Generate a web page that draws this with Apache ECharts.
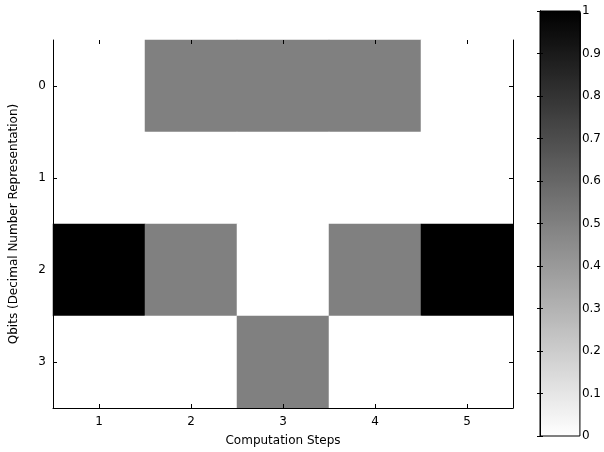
<!DOCTYPE html>
<html>
<head>
<meta charset="utf-8">
<script src="https://cdn.jsdelivr.net/npm/echarts@6/dist/echarts.min.js"></script>
<style>
  html, body { margin: 0; padding: 0; background: #fff; }
  #chart { width: 604px; height: 452px; }
</style>
</head>
<body>
<div id="chart"></div>
<script>
// data
const steps = ['1', '2', '3', '4', '5']
const qbits = ['0', '1', '2', '3']
const row0 = [0, 0.5, 0.5, 0.5, 0]
const row1 = [0, 0, 0, 0, 0]
const row2 = [1, 0.5, 0, 0.5, 1]
const row3 = [0, 0, 0.5, 0, 0]
const colorbarTicks = [0, 0.1, 0.2, 0.3, 0.4, 0.5, 0.6, 0.7, 0.8, 0.9, 1]

const rows = [row0, row1, row2, row3]
const cells = []
rows.forEach((r, y) => r.forEach((v, x) => cells.push([x, y, v])))

const font = 'DejaVu Sans'
const chart = echarts.init(document.getElementById('chart'))

const tickIn = { show: true, inside: true, length: 4, lineStyle: { color: '#000' }, alignWithLabel: true }
const lineBlack = { show: true, lineStyle: { color: '#000', width: 1 } }

chart.setOption({
  animation: false,
  backgroundColor: '#fff',
  grid: [
    { left: 53, top: 40, width: 460, height: 368, containLabel: false },
    { left: 540, top: 11, width: 41, height: 425, show: true, borderColor: '#000', borderWidth: 1, backgroundColor: 'transparent', z: 10 },
  ],
  xAxis: [
    {
      type: 'category', data: steps, gridIndex: 0, position: 'bottom', z: 5,
      axisLine: lineBlack, axisTick: tickIn, splitLine: { show: false },
      axisLabel: { color: '#000', fontFamily: font, fontSize: 12, margin: 8 },
      name: 'Computation Steps', nameLocation: 'middle', nameGap: 27,
      nameTextStyle: { color: '#000', fontFamily: font, fontSize: 12 },
    },
    {
      type: 'category', data: steps, gridIndex: 0, position: 'top', z: 5,
      axisLine: { show: false }, axisTick: tickIn, axisLabel: { show: false },
    },
    { type: 'value', gridIndex: 1, show: false, min: 0, max: 1 },
  ],
  yAxis: [
    {
      type: 'category', data: qbits, gridIndex: 0, inverse: true, position: 'left', z: 5,
      axisLine: lineBlack, axisTick: tickIn, splitLine: { show: false },
      axisLabel: { color: '#000', fontFamily: font, fontSize: 12, margin: 7 },
      name: 'Qbits (Decimal Number Representation)', nameLocation: 'middle', nameGap: 33,
      nameTextStyle: { color: '#000', fontFamily: font, fontSize: 12 },
    },
    {
      type: 'category', data: qbits, gridIndex: 0, inverse: true, position: 'right', z: 5,
      axisLine: lineBlack, axisTick: tickIn, axisLabel: { show: false },
    },
    {
      type: 'value', gridIndex: 1, position: 'right', min: 0, max: 1, interval: 0.1, z: 11,
      axisLine: lineBlack, axisTick: { show: true, inside: true, length: 3, lineStyle: { color: '#000' } },
      splitLine: { show: false },
      axisLabel: {
        color: '#000', fontFamily: font, fontSize: 12, margin: 2, showMinLabel: true, showMaxLabel: true,
        formatter: v => String(colorbarTicks.find(t => Math.abs(t - v) < 1e-6) ?? v),
      },
    },
    {
      type: 'value', gridIndex: 1, position: 'left', min: 0, max: 1, interval: 0.1, z: 11,
      axisLine: lineBlack, axisTick: { show: true, inside: true, length: 3, lineStyle: { color: '#000' } },
      splitLine: { show: false }, axisLabel: { show: false },
    },
  ],
  visualMap: {
    type: 'continuous', min: 0, max: 1, calculable: false, seriesIndex: 0,
    orient: 'vertical', left: 540, top: 11, itemWidth: 41, itemHeight: 425, padding: 0,
    showLabel: false, text: null, hoverLink: false,
    inRange: { color: ['#ffffff', '#808080', '#000000'] },
  },
  series: [{
    type: 'heatmap', xAxisIndex: 0, yAxisIndex: 0, data: cells,
    itemStyle: { borderWidth: 0 },
    emphasis: { disabled: true },
  }],
})
</script>
</body>
</html>
